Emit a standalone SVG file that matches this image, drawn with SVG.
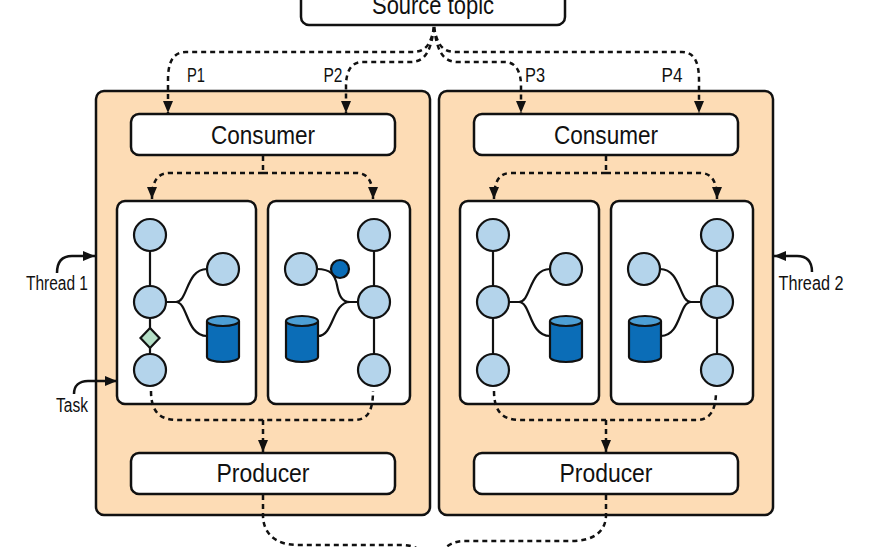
<svg xmlns="http://www.w3.org/2000/svg" width="870" height="547" viewBox="0 0 870 547">
<defs>
<style>
.box{fill:#fff;stroke:#111;stroke-width:2.5}
.thread{fill:#fddcb5;stroke:#111;stroke-width:2.5}
.dash{fill:none;stroke:#111;stroke-width:2.5;stroke-dasharray:5 4}
.solid{fill:none;stroke:#111;stroke-width:2.5}
.edge{fill:none;stroke:#111;stroke-width:2.2}
.node{fill:#b4d4eb;stroke:#111;stroke-width:2.2}
.dark{fill:#0b6db7;stroke:#111;stroke-width:2.2}
.cyl{fill:#0b6db7;stroke:#111;stroke-width:2.2}
.cyltop{fill:#4d9fd5;stroke:#111;stroke-width:2.2}
.dia{fill:#b5dfc7;stroke:#111;stroke-width:2.2}
.lbl{font-family:"Liberation Sans Narrow","Liberation Sans",Arial,sans-serif;fill:#111;text-anchor:middle}
.big{font-size:26px}
.small{font-size:19.5px}
</style>
<marker id="ah" viewBox="0 0 12 10" refX="12" refY="5" markerWidth="12" markerHeight="10" markerUnits="userSpaceOnUse" orient="auto">
<path d="M0,0 L12,5 L0,10 z" fill="#111"/>
</marker>
<g id="cylinder">
<path class="cyl" d="M0,5 V41 A16,5 0 0 0 32,41 V5"/>
<ellipse class="cyltop" cx="16" cy="5" rx="16" ry="5"/>
</g>
</defs>

<g id="source-topic">
<rect class="box" x="301" y="-12" width="264" height="37" rx="8"/>
<text class="lbl big" x="433" y="14" textLength="122" lengthAdjust="spacingAndGlyphs">Source topic</text>
</g>

<g id="thread-1">
<rect class="thread" x="96" y="91" width="334" height="424" rx="8"/>
</g>
<g id="thread-2">
<rect class="thread" x="439" y="91" width="334" height="424" rx="8"/>
</g>

<g id="consumer-1">
<rect class="box" x="131" y="114" width="264" height="41" rx="8"/>
<text class="lbl big" x="263" y="144" textLength="104" lengthAdjust="spacingAndGlyphs">Consumer</text>
</g>
<g id="consumer-2">
<rect class="box" x="474" y="114" width="264" height="41" rx="8"/>
<text class="lbl big" x="606" y="144" textLength="104" lengthAdjust="spacingAndGlyphs">Consumer</text>
</g>
<g id="producer-1">
<rect class="box" x="131" y="453" width="264" height="41" rx="8"/>
<text class="lbl big" x="263" y="482" textLength="93" lengthAdjust="spacingAndGlyphs">Producer</text>
</g>
<g id="producer-2">
<rect class="box" x="474" y="453" width="264" height="41" rx="8"/>
<text class="lbl big" x="606" y="482" textLength="93" lengthAdjust="spacingAndGlyphs">Producer</text>
</g>

<g id="task-1">
<rect class="box" x="117" y="201" width="139" height="203" rx="8"/>
<path class="edge" d="M150,235 V370"/>
<path class="edge" d="M166,302 H176 C188,302 186,269 207,269"/>
<path class="edge" d="M176,302 C188,302 186,336 207,336"/>
<circle class="node" cx="150" cy="235" r="16"/>
<circle class="node" cx="150" cy="302" r="16"/>
<polygon class="dia" points="150,328 159.5,338 150,348 140.5,338"/>
<circle class="node" cx="150" cy="370" r="16"/>
<circle class="node" cx="223" cy="269" r="16"/>
<use href="#cylinder" x="207" y="316"/>
</g>

<g id="task-2">
<rect class="box" x="268" y="201" width="142" height="203" rx="8"/>
<path class="edge" d="M374,235 V370"/>
<path class="edge" d="M317,269 C331,269 335,275 337,285 C339,296 342,302 350,302 H358"/>
<path class="edge" d="M318,336 C334,336 332,302 350,302"/>
<circle class="node" cx="374" cy="235" r="16"/>
<circle class="node" cx="374" cy="302" r="16"/>
<circle class="node" cx="374" cy="370" r="16"/>
<circle class="node" cx="301" cy="269" r="16"/>
<circle class="dark" cx="340" cy="269" r="9"/>
<use href="#cylinder" x="286" y="316"/>
</g>

<g id="task-3">
<rect class="box" x="460" y="201" width="139" height="203" rx="8"/>
<path class="edge" d="M493,235 V370"/>
<path class="edge" d="M509,302 H519 C531,302 529,269 550,269"/>
<path class="edge" d="M519,302 C531,302 529,336 550,336"/>
<circle class="node" cx="493" cy="235" r="16"/>
<circle class="node" cx="493" cy="302" r="16"/>
<circle class="node" cx="493" cy="370" r="16"/>
<circle class="node" cx="566" cy="269" r="16"/>
<use href="#cylinder" x="550" y="316"/>
</g>

<g id="task-4">
<rect class="box" x="611" y="201" width="142" height="203" rx="8"/>
<path class="edge" d="M717,235 V370"/>
<path class="edge" d="M701,302 H691 C679,302 681,269 660,269"/>
<path class="edge" d="M691,302 C679,302 681,336 661,336"/>
<circle class="node" cx="717" cy="235" r="16"/>
<circle class="node" cx="717" cy="302" r="16"/>
<circle class="node" cx="717" cy="370" r="16"/>
<circle class="node" cx="644" cy="269" r="16"/>
<use href="#cylinder" x="629" y="316"/>
</g>

<g id="connectors">
<path class="dash" d="M434,27 C431,44 426,52 412,52 H186 C173,52 168,62 168,80 V113" marker-end="url(#ah)"/>
<path class="dash" d="M434,27 C431,50 426,62 410,62 H362 C351,62 346,72 346,86 V113" marker-end="url(#ah)"/>
<path class="dash" d="M434,27 C437,50 442,62 458,62 H505 C516,62 521,72 521,86 V113" marker-end="url(#ah)"/>
<path class="dash" d="M434,27 C437,44 442,52 456,52 H682 C694,52 699,62 699,80 V113" marker-end="url(#ah)"/>

<path class="dash" d="M263,156 V173"/>
<path class="dash" d="M263,173 H170 C158,173 152,180 152,199" marker-end="url(#ah)"/>
<path class="dash" d="M263,173 H356 C367,173 373,180 373,199" marker-end="url(#ah)"/>
<path class="dash" d="M606,156 V173"/>
<path class="dash" d="M606,173 H511 C500,173 494,180 494,199" marker-end="url(#ah)"/>
<path class="dash" d="M606,173 H700 C711,173 717,180 717,199" marker-end="url(#ah)"/>

<path class="dash" d="M151,391 C151,412 160,420 178,420 H354 C367,420 373,412 373,391"/>
<path class="dash" d="M263,420 V452" marker-end="url(#ah)"/>
<path class="dash" d="M494,391 C494,412 503,420 520,420 H696 C709,420 716,412 716,391"/>
<path class="dash" d="M606,420 V452" marker-end="url(#ah)"/>

<path class="dash" d="M263,495 V515 C263,534 276,545 298,545 H402 Q420,545 433,562"/>
<path class="dash" d="M606,495 V515 C606,531 594,541 572,541 H464 Q446,541 433,562"/>

<path class="solid" d="M57,273 C57,262 62,256 72,256 H95" marker-end="url(#ah)"/>
<path class="solid" d="M812,272 C812,262 807,256 797,256 H774" marker-end="url(#ah)"/>
<path class="solid" d="M74,394 C74,386 79,381 88,381 H117" marker-end="url(#ah)"/>
</g>

<g id="labels">
<text class="lbl small" x="196" y="82" textLength="18" lengthAdjust="spacingAndGlyphs">P1</text>
<text class="lbl small" x="333" y="82" textLength="19" lengthAdjust="spacingAndGlyphs">P2</text>
<text class="lbl small" x="535" y="82" textLength="20" lengthAdjust="spacingAndGlyphs">P3</text>
<text class="lbl small" x="672" y="82" textLength="21" lengthAdjust="spacingAndGlyphs">P4</text>
<text class="lbl small" x="57" y="290" textLength="62" lengthAdjust="spacingAndGlyphs">Thread 1</text>
<text class="lbl small" x="811" y="290" textLength="65" lengthAdjust="spacingAndGlyphs">Thread 2</text>
<text class="lbl small" x="72" y="412" textLength="32" lengthAdjust="spacingAndGlyphs">Task</text>
</g>
</svg>
